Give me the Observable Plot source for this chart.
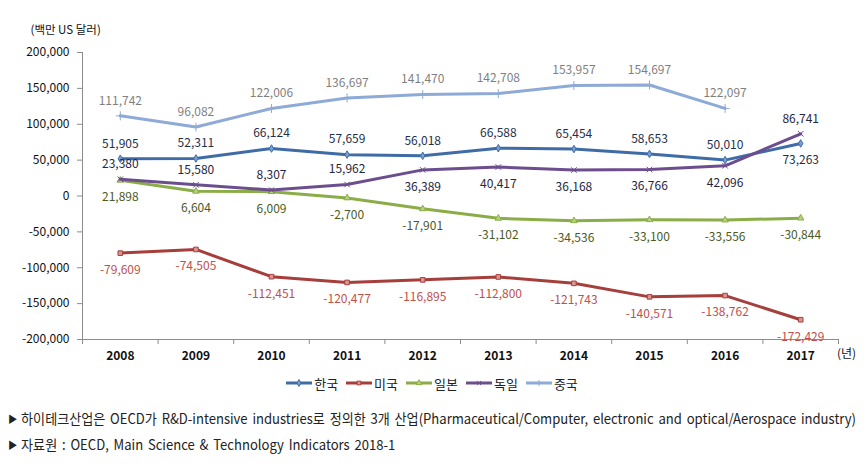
<!DOCTYPE html>
<html><head><meta charset="utf-8">
<script src="https://cdn.jsdelivr.net/npm/d3@7"></script>
<script src="https://cdn.jsdelivr.net/npm/@observablehq/plot@0.6"></script>
<style>
body{margin:0;background:#fff;font-family:"Noto Sans CJK KR","Noto Sans",sans-serif;overflow:hidden}
#legend{display:flex;justify-content:center;align-items:center;gap:8px;font-size:13px;color:#222;height:26px;margin-left:-4px;margin-top:0px}
#legend .it{display:flex;align-items:center;gap:2px}
.note{font-family:"Noto Sans CJK KR",sans-serif;font-size:14px;color:#222;white-space:nowrap;margin-left:8px;word-spacing:2px;line-height:24px;display:inline-block;transform-origin:0 50%}
.note .ar{font-size:10px;margin-right:4px;vertical-align:1px}
</style></head>
<body>
<div id="chart"></div>
<div id="legend"></div>
<div id="notes" style="margin-top:9px">
<div><span class="note" id="n1"><span class="ar">▶</span>하이테크산업은 OECD가 R&amp;D-intensive industries로 정의한 3개 산업(Pharmaceutical/Computer, electronic and optical/Aerospace industry)</span></div>
<div><span class="note" id="n2"><span class="ar">▶</span>자료원 : OECD, Main Science &amp; Technology Indicators 2018-1</span></div>
</div>
<script>
const years = [2008,2009,2010,2011,2012,2013,2014,2015,2016,2017];
const countries = ["한국","미국","일본","독일","중국"];
const korea   = [51905,52311,66124,57659,56018,66588,65454,58653,50010,73263];
const usa     = [-79609,-74505,-112451,-120477,-116895,-112800,-121743,-140571,-138762,-172429];
const japan   = [21898,6604,6009,-2700,-17901,-31102,-34536,-33100,-33556,-30844];
const germany = [23380,15580,8307,15962,36389,40417,36168,36766,42096,86741];
const china   = [111742,96082,122006,136697,141470,142708,153957,154697,122097,null];
const yTicks = [-200000,-150000,-100000,-50000,0,50000,100000,150000,200000];
// label placement: "a" above, "b" below
const korPos = ["a","a","a","a","a","a","a","a","a","b"];
const gerPos = ["a","a","a","a","b","b","b","b","b","a"];

const styles = {
  "한국": {stroke:"#3f6ca6", fill:"#7b9fcf", symbol:"diamond", r:2.3, label:"#1f2f4a"},
  "미국": {stroke:"#a63e3b", fill:"#dc9593", symbol:"square", r:2.6, label:"#c0504d"},
  "일본": {stroke:"#8bad47", fill:"#b9d27f", symbol:"triangle", r:2.4, label:"#4b5a22"},
  "독일": {stroke:"#6c4e8e", fill:"none", symbol:"times", r:2.6, label:"#26263e"},
  "중국": {stroke:"#8eaad6", fill:"none", symbol:"plus", r:3, label:"#7f7f7f"}
};
const series = {"한국":korea,"미국":usa,"일본":japan,"독일":germany,"중국":china};
const posOf = {"한국":korPos,"미국":years.map(()=>"b"),"일본":years.map(()=>"b"),"독일":gerPos,"중국":years.map(()=>"a")};

const data = [];
for (const c of countries) series[c].forEach((v,i)=>{ if(v!==null) data.push({country:c, year:years[i], value:v, pos:posOf[c][i]}); });
const bounds = years.map(y=>y-0.5).concat([years[years.length-1]+0.5]);
const fmt = d3.formatLocale({decimal:".", thousands:",", grouping:[3], currency:["",""], minus:"-"}).format(",");

const marks = [
  Plot.ruleX([bounds[0]], {stroke:"#8c8c8c"}),
  Plot.ruleY([yTicks[0]], {stroke:"#8c8c8c"}),
  Plot.axisY({ticks:yTicks, tickFormat:fmt, tickSize:5, tickPadding:8, stroke:"#8c8c8c", label:null, fontSize:12, fill:"#111"}),
  Plot.axisX({ticks:bounds, tickFormat:()=>"", tickSize:5, stroke:"#8c8c8c", label:null}),
  Plot.axisX({ticks:years, tickFormat:d=>String(d), tickSize:0, tickPadding:12, label:null, fontSize:12, fill:"#111", fontWeight:"600"}),
  Plot.text(["(백만 US 달러)"], {frameAnchor:"top-left", dx:-52, dy:-27, textAnchor:"start", fontSize:11.5, fill:"#111"}),
  Plot.text(["(년)"], {frameAnchor:"bottom-right", dx:8, dy:18, textAnchor:"middle", fontSize:12, fill:"#111"})
];
for (const c of countries) {
  const s = styles[c];
  const d = data.filter(r=>r.country===c);
  marks.push(Plot.line(d, {x:"year", y:"value", stroke:s.stroke, strokeWidth:3}));
  marks.push(Plot.dot(d, {x:"year", y:"value", symbol:()=>s.symbol, r:s.r, stroke:s.stroke, fill:s.fill, strokeWidth:1}));
}
for (const c of countries) {
  const s = styles[c];
  const d = data.filter(r=>r.country===c);
  marks.push(Plot.text(d.filter(r=>r.pos==="a"), {x:"year", y:"value", text:r=>fmt(r.value), dy:-15, fill:s.label, fontSize:12}));
  marks.push(Plot.text(d.filter(r=>r.pos==="b"), {x:"year", y:"value", text:r=>fmt(r.value), dy:17, fill:s.label, fontSize:12}));
}

const chart = Plot.plot({
  width:868, height:370,
  marginTop:52, marginBottom:31, marginLeft:82, marginRight:30,
  style:{fontFamily:"'Noto Sans CJK KR','Noto Sans',sans-serif", fontSize:"12px", color:"#111", background:"#fff", overflow:"visible"},
  x:{type:"linear", domain:[bounds[0], bounds[bounds.length-1]]},
  y:{domain:[yTicks[0], yTicks[yTicks.length-1]]},
  symbol:{type:"identity"},
  marks
});
document.getElementById("chart").append(chart);

// legend
const lg = d3.select("#legend");
for (const c of countries) {
  const s = styles[c];
  const it = lg.append("div").attr("class","it");
  const svg = it.append("svg").attr("width",26).attr("height",12);
  svg.append("line").attr("x1",0).attr("x2",26).attr("y1",6).attr("y2",6).attr("stroke",s.stroke).attr("stroke-width",3);
  const sym = {diamond:d3.symbolDiamond, square:d3.symbolSquare, triangle:d3.symbolTriangle, times:d3.symbolTimes, plus:d3.symbolPlus}[s.symbol];
  svg.append("path").attr("transform","translate(13,6)").attr("d", d3.symbol(sym, 14)()).attr("stroke",s.stroke).attr("fill",s.fill).attr("stroke-width",1);
  it.append("span").text(c);
}

// fit the first footnote to the reference width and apply the same squeeze to both
const n1 = document.getElementById("n1"), n2 = document.getElementById("n2");
const k = Math.min(1, 848 / n1.getBoundingClientRect().width);
n1.style.transform = `scaleX(${k})`;
n2.style.transform = `scaleX(${k})`;
</script>
</body></html>
